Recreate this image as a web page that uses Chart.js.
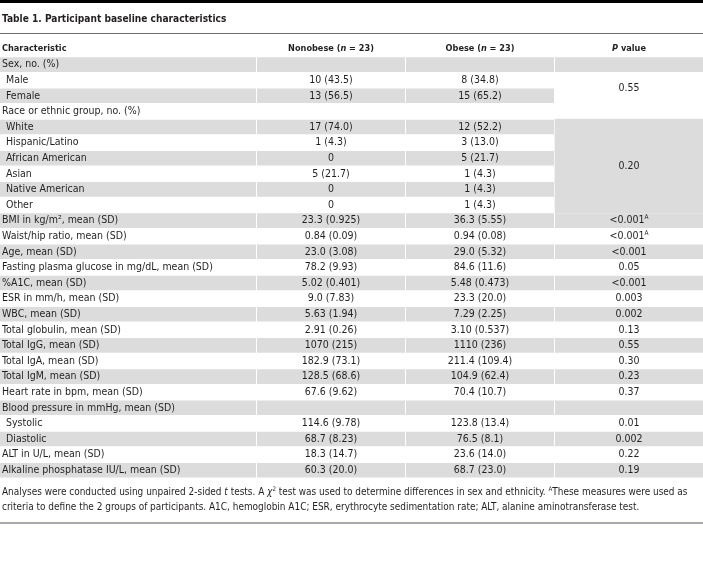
<!DOCTYPE html>
<html>
<head>
<meta charset="utf-8">
<script src="https://cdn.jsdelivr.net/npm/chart.js@4.4.1/dist/chart.umd.min.js"></script>
<style>
html,body{margin:0;padding:0;background:#fff;}
canvas{display:block;}
</style>
</head>
<body>
<canvas id="c" width="703" height="575"></canvas>
<script>
// ---------- data ----------
const tableTitle = 'Table 1. Participant baseline characteristics';
const columnHeaders = [
  [{t:'Characteristic', b:true}],
  [{t:'Nonobese (', b:true},{t:'n', b:true, i:true},{t:' = 23)', b:true}],
  [{t:'Obese (', b:true},{t:'n', b:true, i:true},{t:' = 23)', b:true}],
  [{t:'P', b:true, i:true},{t:' value', b:true}]
];
const characteristics = [
  'Sex, no. (%)','Male','Female',
  'Race or ethnic group, no. (%)','White','Hispanic/Latino','African American','Asian','Native American','Other',
  'BMI in kg/m², mean (SD)','Waist/hip ratio, mean (SD)','Age, mean (SD)',
  'Fasting plasma glucose in mg/dL, mean (SD)','%A1C, mean (SD)','ESR in mm/h, mean (SD)',
  'WBC, mean (SD)','Total globulin, mean (SD)','Total IgG, mean (SD)','Total IgA, mean (SD)',
  'Total IgM, mean (SD)','Heart rate in bpm, mean (SD)','Blood pressure in mmHg, mean (SD)',
  'Systolic','Diastolic','ALT in U/L, mean (SD)','Alkaline phosphatase IU/L, mean (SD)'
];
const subItems = ['Male','Female','White','Hispanic/Latino','African American','Asian','Native American','Other','Systolic','Diastolic'];
const nonobese = [
  '','10 (43.5)','13 (56.5)',
  '','17 (74.0)','1 (4.3)','0','5 (21.7)','0','0',
  '23.3 (0.925)','0.84 (0.09)','23.0 (3.08)',
  '78.2 (9.93)','5.02 (0.401)','9.0 (7.83)',
  '5.63 (1.94)','2.91 (0.26)','1070 (215)','182.9 (73.1)',
  '128.5 (68.6)','67.6 (9.62)','',
  '114.6 (9.78)','68.7 (8.23)','18.3 (14.7)','60.3 (20.0)'
];
const obese = [
  '','8 (34.8)','15 (65.2)',
  '','12 (52.2)','3 (13.0)','5 (21.7)','1 (4.3)','1 (4.3)','1 (4.3)',
  '36.3 (5.55)','0.94 (0.08)','29.0 (5.32)',
  '84.6 (11.6)','5.48 (0.473)','23.3 (20.0)',
  '7.29 (2.25)','3.10 (0.537)','1110 (236)','211.4 (109.4)',
  '104.9 (62.4)','70.4 (10.7)','',
  '123.8 (13.4)','76.5 (8.1)','23.6 (14.0)','68.7 (23.0)'
];
// P value cells: text, number of rows spanned, footnote mark
const pValueText = ['','0.55','','0.20','<0.001','<0.001','<0.001','0.05','<0.001','0.003','0.002','0.13','0.55','0.30','0.23','0.37','','0.01','0.002','0.22','0.19'];
const pValueSpan = [1,2,1,6,1,1,1,1,1,1,1,1,1,1,1,1,1,1,1,1,1];
const pValueMark = ['','','','','A','A','','','','','','','','','','','','','','',''];
const footnoteLines = [
  [{t:'Analyses were conducted using unpaired 2-sided '},{t:'t', i:true},{t:' tests. A '},{t:'χ', i:true},{t:'2', sup:true},
   {t:' test was used to determine differences in sex and ethnicity. '},{t:'A', sup:true},{t:'These measures were used as'}],
  [{t:'criteria to define the 2 groups of participants. A1C, hemoglobin A1C; ESR, erythrocyte sedimentation rate; ALT, alanine aminotransferase test.'}]
];

// ---------- layout / style ----------
const W = 703;
const colEdges = [[0,256],[257,405],[406,554],[555,703]];
const GRAY = '#dcdcdc';
const INK = '#231f20';
const FAMILY = '"DejaVu Sans Condensed", "DejaVu Sans", sans-serif';
const BODY = 10.5;

function fontOf(s, size){
  return (s.i ? 'italic ' : '') + (s.b ? 'bold ' : '') + (s.sup ? size*0.62 : size) + 'px ' + FAMILY;
}
function richWidth(ctx, segs, size){
  let w = 0;
  for (const s of segs){ ctx.font = fontOf(s, size); w += ctx.measureText(s.t).width; }
  return w;
}
function drawRich(ctx, segs, x, y, align, size){
  const w = richWidth(ctx, segs, size);
  let cx = align === 'center' ? x - w/2 : x;
  ctx.textAlign = 'left';
  ctx.textBaseline = 'middle';
  ctx.fillStyle = INK;
  for (const s of segs){
    ctx.font = fontOf(s, size);
    ctx.fillText(s.t, cx, s.sup ? y - size*0.3 : y);
    cx += ctx.measureText(s.t).width;
  }
}

// rows of each P value group
const pGroups = [];
{ let r = 0; pValueText.forEach((t, k) => { pGroups.push({first:r, last:r+pValueSpan[k]-1, text:t, mark:pValueMark[k]}); r += pValueSpan[k]; }); }
const shaded = i => i % 2 === 0;

function cellData(col){
  return characteristics.map((_, i) => shaded(i) ? colEdges[col] : null);
}
function pSingleData(){
  const d = characteristics.map(() => null);
  pGroups.forEach(g => { if (g.first === g.last && shaded(g.first)) d[g.first] = colEdges[3]; });
  return d;
}
function pMergedData(){
  const d = characteristics.map(() => null);
  pGroups.forEach(g => { if (g.first !== g.last && shaded(g.first)) for (let r = g.first; r <= g.last; r++) d[r] = colEdges[3]; });
  return d;
}
const barBase = {backgroundColor: GRAY, borderWidth: 0, grouped: false, barPercentage: 1, categoryPercentage: 14.6/15.6};

const tablePlugin = {
  id: 'tableText',
  afterDatasetsDraw(chart){
    const ctx = chart.ctx;
    const xs = chart.scales.x, ys = chart.scales.y;
    const colCenter = c => xs.getPixelForValue((colEdges[c][0] + colEdges[c][1]) / 2);
    ctx.save();
    // rules
    ctx.fillStyle = '#000'; ctx.fillRect(0, 0, W, 3);
    ctx.fillStyle = '#6d6e71'; ctx.fillRect(0, 33, W, 1);
    ctx.fillStyle = '#a7a9ac'; ctx.fillRect(0, 522, W, 2);
    // title
    drawRich(ctx, [{t: tableTitle, b: true}], 2, 19, 'left', 10.1);
    // header
    drawRich(ctx, columnHeaders[0], 2, 48.8, 'left', 9.1);
    for (let c = 1; c < 4; c++) drawRich(ctx, columnHeaders[c], colCenter(c), 48.8, 'center', 9.1);
    // body
    characteristics.forEach((label, i) => {
      const y = ys.getPixelForValue(i);
      drawRich(ctx, [{t: label}], subItems.includes(label) ? 6 : 2, y, 'left', BODY);
      if (nonobese[i]) drawRich(ctx, [{t: nonobese[i]}], colCenter(1), y, 'center', BODY);
      if (obese[i]) drawRich(ctx, [{t: obese[i]}], colCenter(2), y, 'center', BODY);
    });
    pGroups.forEach(g => {
      if (!g.text) return;
      const y = (ys.getPixelForValue(g.first) + ys.getPixelForValue(g.last)) / 2;
      const segs = [{t: g.text}];
      if (g.mark) segs.push({t: g.mark, sup: true});
      drawRich(ctx, segs, colCenter(3), y, 'center', BODY);
    });
    // footnote
    footnoteLines.forEach((line, k) => drawRich(ctx, line, 2, 492 + k*15, 'left', 9.95));
    ctx.restore();
  }
};

new Chart(document.getElementById('c').getContext('2d'), {
  type: 'bar',
  data: {
    labels: characteristics,
    datasets: [
      Object.assign({label:'Characteristic', data: cellData(0)}, barBase),
      Object.assign({label:'Nonobese', data: cellData(1)}, barBase),
      Object.assign({label:'Obese', data: cellData(2)}, barBase),
      Object.assign({label:'P value', data: pSingleData()}, barBase),
      Object.assign({label:'P value (merged)', data: pMergedData()}, barBase, {categoryPercentage: 1})
    ]
  },
  options: {
    indexAxis: 'y',
    responsive: false,
    animation: false,
    events: [],
    layout: {padding: {top: 56.8, bottom: 575 - 56.8 - 27*15.6, left: 0, right: 0}},
    plugins: {legend: {display: false}, tooltip: {enabled: false}, title: {display: false}},
    scales: {
      x: {type: 'linear', min: 0, max: W, display: false},
      y: {type: 'category', display: false, offset: true}
    }
  },
  plugins: [tablePlugin]
});
</script>
</body>
</html>
